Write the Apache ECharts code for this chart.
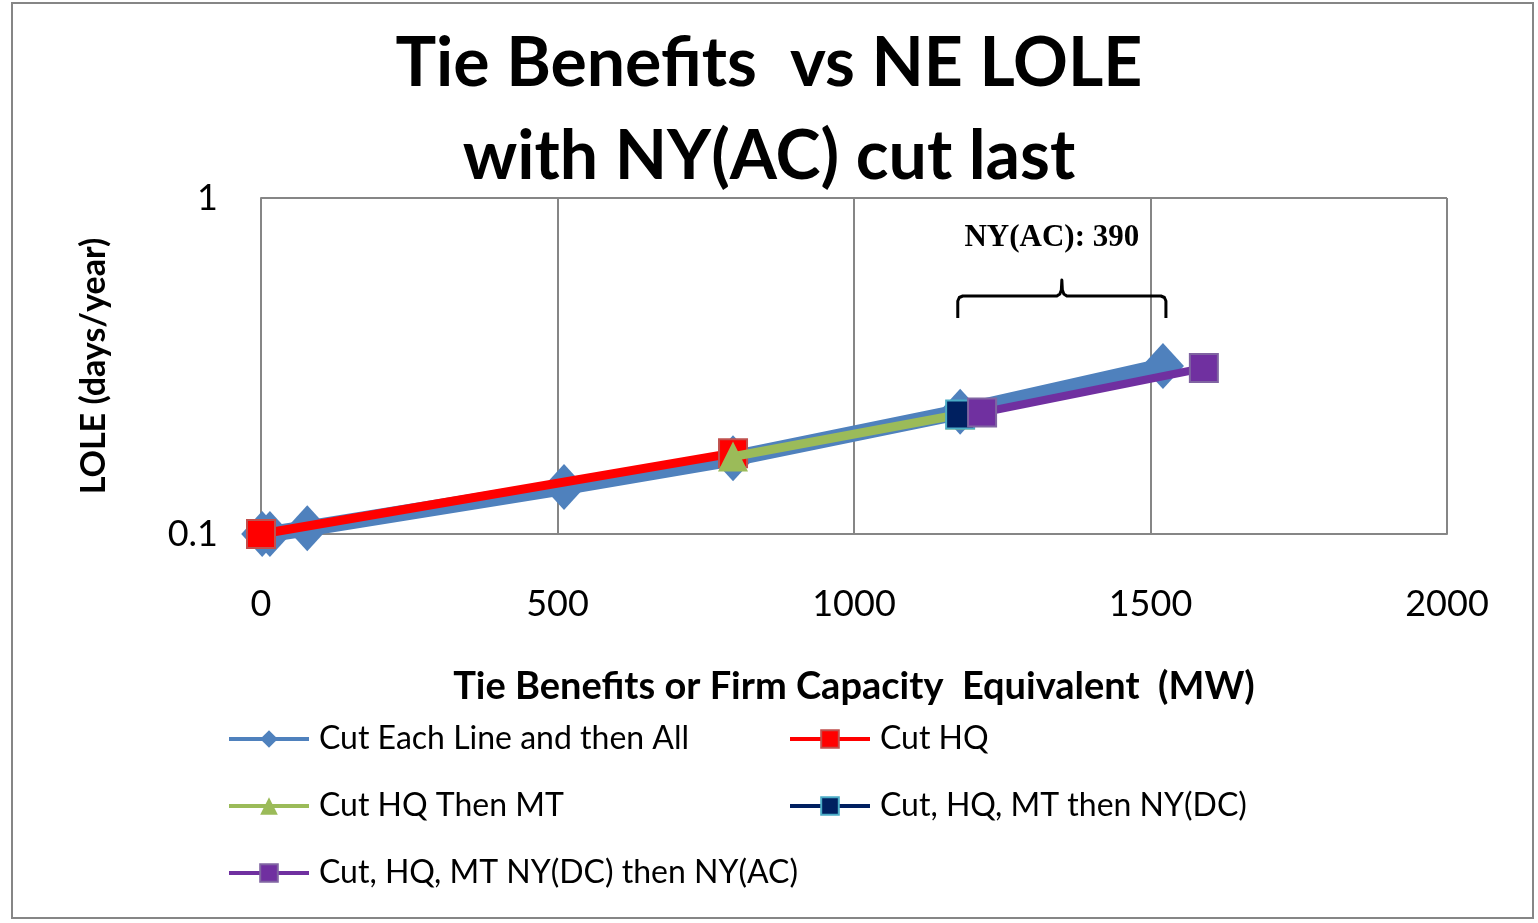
<!DOCTYPE html>
<html><head><meta charset="utf-8">
<script src="https://cdn.jsdelivr.net/npm/echarts@6/dist/echarts.min.js"></script>
<style>html,body{margin:0;padding:0;background:#fff}#c{width:1538px;height:923px}</style>
</head><body><div id="c"></div>
<script>
const titleText = 'Tie Benefits  vs NE LOLE\nwith NY(AC) cut last';
const xName = 'Tie Benefits or Firm Capacity  Equivalent  (MW)';
const yName = 'LOLE (days/year)';
const annotationText = 'NY(AC): 390';
const seriesNames = ['Cut Each Line and then All','Cut HQ','Cut HQ Then MT','Cut, HQ, MT then NY(DC)','Cut, HQ, MT NY(DC) then NY(AC)'];
const cutEachLine = [[2,0.1],[15,0.1],[78,0.104],[511,0.138],[796,0.168],[1179,0.231],[1521,0.316]];
const cutHQ = [[0,0.1],[796,0.174]];
const cutHQThenMT = [[796,0.17],[1179,0.227]];
const cutHQMTThenDC = [[1179,0.227]];
const cutHQMTDCThenAC = [[1216,0.23],[1590,0.312]];
const braceSpan = [1175,1526];

const FONT = 'Lato';
const chart = echarts.init(document.getElementById('c'));
const legendPos = [[222,718],[783,718],[222,785],[783,785],[222,852]];
const option = {
  backgroundColor:'#fff',
  animation:false,
  title:{text:titleText,left:'center',top:13,textStyle:{fontFamily:FONT,fontWeight:'bold',fontSize:68,lineHeight:93,color:'#000'}},
  grid:{left:261,right:91,top:198,bottom:389,containLabel:false},
  xAxis:{type:'value',min:0,max:2000,interval:500,
    name:xName,nameLocation:'middle',nameGap:134,
    nameTextStyle:{fontFamily:FONT,fontWeight:'bold',fontSize:38,color:'#000'},
    axisLine:{show:true,lineStyle:{color:'#868686',width:2}},axisTick:{show:false},
    axisLabel:{margin:52,fontFamily:FONT,fontSize:36,color:'#000',formatter:v=>String(v)},
    splitLine:{show:true,lineStyle:{color:'#868686',width:2}}},
  yAxis:{type:'log',logBase:10,min:0.1,max:1,
    name:yName,nameLocation:'middle',nameGap:150,nameRotate:90,
    nameTextStyle:{fontFamily:FONT,fontWeight:'bold',fontSize:34,color:'#000'},
    axisLine:{show:true,lineStyle:{color:'#868686',width:2}},axisTick:{show:false},
    axisLabel:{margin:43,fontFamily:FONT,fontSize:36,color:'#000',formatter:v=>String(+v.toPrecision(3))},
    splitLine:{show:true,lineStyle:{color:'#868686',width:2}}},
  legend: seriesNames.map((n,i)=>({data:[n],left:legendPos[i][0],top:legendPos[i][1],itemWidth:80,itemHeight:22,itemGap:10,
    lineStyle:{width:4},
    textStyle:{fontFamily:FONT,fontSize:32,color:'#000',padding:[0,0,0,5]}})),
  series:[
    {name:seriesNames[0],type:'line',data:cutEachLine,symbol:'diamond',symbolSize:[42,46],
      lineStyle:{color:'#4f81bd',width:16},itemStyle:{color:'#4f81bd'},z:2},
    {name:seriesNames[1],type:'line',data:cutHQ,symbol:'rect',symbolSize:28,
      lineStyle:{color:'#ff0000',width:9},itemStyle:{color:'#ff0000',borderColor:'#c0504d',borderWidth:2},z:3},
    {name:seriesNames[2],type:'line',data:cutHQThenMT,symbol:'triangle',symbolSize:[30,30],
      lineStyle:{color:'#9bbb59',width:9},itemStyle:{color:'#9bbb59'},z:4},
    {name:seriesNames[3],type:'line',data:cutHQMTThenDC,symbol:'rect',symbolSize:28,
      lineStyle:{color:'#002060',width:5},itemStyle:{color:'#002060',borderColor:'#4bacc6',borderWidth:2},z:5},
    {name:seriesNames[4],type:'line',data:cutHQMTDCThenAC,symbol:'rect',symbolSize:28,
      lineStyle:{color:'#7030a0',width:8},itemStyle:{color:'#7030a0',borderColor:'#8064a2',borderWidth:2},z:6}
  ]
};
chart.setOption(option);
const x1 = chart.convertToPixel({gridIndex:0},[braceSpan[0],0.5])[0];
const x2 = chart.convertToPixel({gridIndex:0},[braceSpan[1],0.5])[0];
const xm = (x1+x2)/2;
const yb = 296, yTop = 280, yEnd = 318;
const bracePts = [[x1,yEnd],[x1,yb+5],[x1+1.5,yb+1.5],[x1+5,yb],[xm-5,yb],[xm-2,yb-2],[xm-0.5,yb-6],[xm,yTop],[xm+0.5,yb-6],[xm+2,yb-2],[xm+5,yb],[x2-5,yb],[x2-1.5,yb+1.5],[x2,yb+5],[x2,yEnd]];
chart.setOption({graphic:[
  {type:'rect',shape:{x:12,y:3,width:1521,height:915},style:{fill:'none',stroke:'#868686',lineWidth:2},silent:true},
  {type:'polyline',shape:{points:bracePts},style:{fill:null,stroke:'#000',lineWidth:3,lineJoin:'round'},silent:true,z:10},
  {type:'text',x:xm-10,y:238,style:{text:annotationText,fontFamily:'Liberation Serif',fontWeight:'bold',fontSize:31,fill:'#000',align:'center',verticalAlign:'middle'},z:10}
]});
</script></body></html>
